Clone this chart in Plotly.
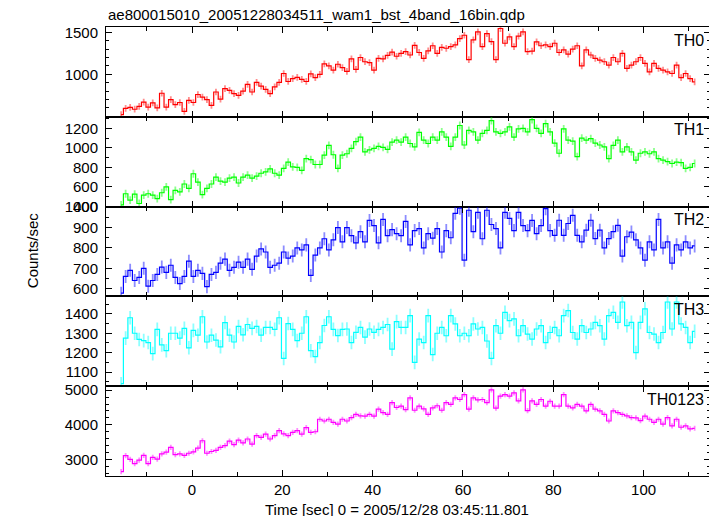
import plotly.graph_objects as go
from plotly.subplots import make_subplots

# ---- data (counts/sec, 1 s bins starting at T0) ----
T0 = -16.2
BIN = 1.0

TH0 = [
    520, 595, 607, 585, 620, 670, 610, 660, 600, 775,
    610, 700, 640, 665, 560, 690, 665, 760, 730, 700,
    630, 790, 705, 830, 810, 770, 750, 800, 880, 790,
    905, 860, 820, 770, 850, 905, 1010, 915, 950, 965,
    940, 915, 1005, 960, 1000, 1125, 1100, 1050, 1120, 1080,
    1035, 1185, 1060, 1200, 1150, 1140, 1050, 1190, 1185, 1225,
    1265, 1215, 1250,
    1270, 1230, 1345, 1260, 1190, 1280, 1340, 1250, 1320, 1310,
    1330, 1350, 1425, 1465, 1175, 1410, 1505, 1330, 1485, 1390,
    1175, 1545, 1370, 1445, 1330, 1455, 1505, 1270,
    1275, 1385, 1340, 1350, 1330, 1370, 1260, 1290, 1240, 1300,
    1340, 1100, 1290, 1230, 1190, 1170, 1150, 1110, 1200, 1150,
    1250, 1070, 1110, 1150, 1200, 1130, 1030, 1130, 1070, 1050,
    1030, 1010, 1110, 960, 1010, 950, 910,
]
TH1 = [
    415, 530, 465, 525, 430, 515, 530, 515, 480, 540,
    600, 470, 565, 550, 630, 585, 735, 650, 520, 585,
    630, 700, 660, 650, 690, 700, 640, 700, 720, 690,
    710, 740, 755, 785, 740, 720, 790, 855, 805, 800,
    770, 890, 880, 830, 830, 925, 1025, 930, 790, 925,
    940, 995, 1065, 1110, 960, 980, 995, 1015, 1005, 985,
    1060, 1080, 1060,
    1110, 1045, 1010, 1160, 1080, 1045, 1110, 1080, 1165, 1110,
    1015, 1110, 1230, 1030, 1180, 1165, 1080, 1150, 1180, 1280,
    1165, 1150, 1165, 1215, 1110, 1195, 1200, 1165,
    1290, 1200, 1150, 1250, 1165, 1050, 945, 1195, 1080, 1070,
    910, 1100, 1080, 1095, 1050, 1030, 1010, 890, 1025, 1080,
    960, 1010, 960, 875, 945, 960, 940, 960, 890, 875,
    860, 840, 855, 850, 790, 800, 840,
]
TH2 = [
    578, 660, 690, 640, 655, 700, 612, 640, 670, 706,
    680, 715, 655, 625, 660, 735, 660, 690, 675, 610,
    670, 680, 725, 745, 690, 705, 730, 705, 745, 695,
    760, 795, 780, 705, 715, 725, 780, 750, 760, 800,
    790, 815, 665, 765, 800, 845, 790, 840, 900, 830,
    900, 860, 825, 880, 830, 935, 910, 825, 940, 860,
    890, 870, 860,
    930, 815, 885, 895, 800, 870, 848, 895, 780, 885,
    850, 970, 995, 740, 985, 880, 975, 845, 985, 915,
    895, 800, 975, 945, 885, 975, 910, 885,
    935, 870, 910, 993, 885, 862, 936, 862, 920, 960,
    862, 830, 887, 936, 846, 887, 800, 846, 880, 911,
    760, 855, 878, 840, 800, 740, 830, 790, 940, 800,
    830, 725, 815, 790, 830, 800, 810,
]
TH3 = [
    1040, 1275, 1380, 1300, 1268, 1262, 1252, 1195, 1320, 1240,
    1210, 1300, 1300, 1275, 1325, 1225, 1315, 1290, 1385, 1255,
    1290, 1265, 1230, 1355, 1290, 1255, 1335, 1292, 1345, 1325,
    1335, 1290, 1330, 1330, 1320, 1380, 1170, 1350, 1320, 1262,
    1300, 1385, 1210, 1180, 1252, 1340, 1385, 1320, 1288, 1320,
    1322, 1252, 1305, 1330, 1280, 1322, 1305, 1320, 1330, 1345,
    1218, 1360, 1330,
    1330, 1391, 1150, 1270, 1252, 1391, 1190, 1300, 1330, 1287,
    1391, 1348, 1287, 1300, 1287, 1348, 1322, 1330, 1260, 1170,
    1339, 1300, 1408, 1365, 1374, 1287, 1339, 1296,
    1270, 1322, 1339, 1252, 1304, 1330, 1287, 1391, 1417, 1304,
    1270, 1339, 1304, 1322, 1356, 1339, 1270, 1391, 1408, 1356,
    1461, 1339, 1356, 1200, 1356, 1426, 1304, 1296, 1252, 1304,
    1461, 1322, 1461, 1348, 1330, 1252, 1310,
]
TH0123 = [
    2650, 3110, 3000, 2880, 2980, 3120, 2880, 3060, 3010, 3160,
    3210, 3350, 3140, 3160, 3120, 3180, 3220, 3330, 3540, 3180,
    3230, 3260, 3350, 3400, 3530, 3430, 3560, 3480, 3590, 3440,
    3690, 3640, 3730, 3590, 3690, 3830, 3740, 3690, 3780, 3830,
    3730, 3920, 3780, 3800, 4160, 4110, 4160, 4070, 4020, 4160,
    4110, 4210, 4300, 4260, 4250, 4300, 4250, 4450, 4350, 4300,
    4640, 4500, 4540,
    4440, 4780, 4420, 4540, 4460, 4300, 4490, 4550, 4420, 4640,
    4590, 4780, 4730, 4870, 4450, 4780, 4720, 4730, 4640, 5010,
    4480, 4830, 4870, 4830, 4920, 4690, 5010, 4410,
    4690, 4590, 4730, 4540, 4680, 4540, 4540, 4870, 4540, 4490,
    4590, 4540, 4400, 4590, 4450, 4400, 4300, 4110, 4400, 4350,
    4300, 4260, 4210, 4200, 4120, 4250, 4160, 4070, 4160, 4020,
    4210, 3970, 4160, 3930, 3970, 3880, 3900,
]

NAMES = ["TH0", "TH1", "TH2", "TH3", "TH0123"]
SERIES = [TH0, TH1, TH2, TH3, TH0123]
ERRORS = [40, 40, 32, 35, 75]
COLORS = ["#ff0000", "#00ff00", "#0000ff", "#00ffff", "#ff00ff"]
ERRCOLORS = ["rgba(255,0,0,0.45)", "rgba(0,255,0,0.45)", "rgba(0,0,255,0.45)",
             "rgba(0,255,255,0.45)", "rgba(255,0,255,0.45)"]
YRANGES = [[495, 1563], [398, 1319], [562, 1003], [1027, 1490], [2523, 5114]]
YTICKS = [[1000, 1500], [400, 600, 800, 1000, 1200], [600, 700, 800, 900, 1000],
          [1100, 1200, 1300, 1400], [3000, 4000, 5000]]
YMINOR = [100, 100, 50, 50, 200]

times = [T0 + BIN * (i + 0.5) for i in range(len(TH0))]

FONT = "Liberation Sans, Arial, Helvetica, sans-serif"

fig = make_subplots(rows=5, cols=1, shared_xaxes=True, vertical_spacing=0)

for k, (name, vals) in enumerate(zip(NAMES, SERIES)):
    fig.add_trace(go.Scatter(
        x=times, y=vals, mode="lines",
        line=dict(color=COLORS[k], width=1.2, shape="hvh"),
        error_y=dict(type="constant", value=ERRORS[k], color=ERRCOLORS[k], thickness=1.8, width=0),
        showlegend=False, name=name,
    ), row=k + 1, col=1)

    fig.update_yaxes(
        row=k + 1, col=1,
        range=YRANGES[k], tickmode="array", tickvals=YTICKS[k],
        ticks="inside", ticklen=6, tickcolor="black", tickwidth=1,
        minor=dict(tickmode="linear", tick0=0, dtick=YMINOR[k], ticks="inside",
                   ticklen=3, tickcolor="black", tickwidth=1),
        showline=True, linecolor="black", linewidth=1, mirror="ticks",
        showgrid=False, zeroline=False,
        tickfont=dict(family=FONT, size=15, color="black"),
        ticklabelstandoff=4,
    )
    fig.update_xaxes(
        row=k + 1, col=1,
        range=[-19.05, 114.7], tickmode="linear", tick0=0, dtick=20,
        ticks="inside", ticklen=6, tickcolor="black", tickwidth=1,
        minor=dict(tickmode="linear", tick0=0, dtick=10, ticks="inside",
                   ticklen=4, tickcolor="black", tickwidth=1),
        showline=True, linecolor="black", linewidth=1, mirror="ticks",
        showgrid=False, zeroline=False,
        showticklabels=(k == 4),
        tickfont=dict(family=FONT, size=15, color="black"),
    )

    yaxis_name = "y domain" if k == 0 else f"y{k + 1} domain"
    xaxis_name = "x domain" if k == 0 else f"x{k + 1} domain"
    fig.add_annotation(
        text=name, xref=xaxis_name, yref=yaxis_name, x=0.993, y=0.97,
        xanchor="right", yanchor="top", showarrow=False,
        font=dict(family=FONT, size=16, color="black"),
    )

fig.add_annotation(
    text="ae800015010_20051228034511_wam1_bst_4band_16bin.qdp",
    xref="paper", yref="paper", x=0.0, y=1.0, xanchor="left", yanchor="bottom",
    yshift=2, showarrow=False, font=dict(family=FONT, size=15, color="black"),
)
fig.add_annotation(
    text="Counts/sec", xref="paper", yref="paper", x=-0.1225, y=0.503,
    xanchor="center", yanchor="middle", textangle=-90, showarrow=False,
    font=dict(family=FONT, size=15, color="black"),
)
fig.add_annotation(
    text="Time [sec] 0 = 2005/12/28 03:45:11.801", xref="paper", yref="paper",
    x=0.482, y=-0.0735, xanchor="center", yanchor="middle", showarrow=False,
    font=dict(family=FONT, size=15, color="black"),
)

# page body has an 8 px margin, so the figure is sized to fit the window
fig.update_layout(
    width=709, height=508,
    margin=dict(l=98, r=7, t=19, b=40),
    paper_bgcolor="white", plot_bgcolor="white",
    font=dict(family=FONT, color="black"),
)

fig.write_html("out.html")
